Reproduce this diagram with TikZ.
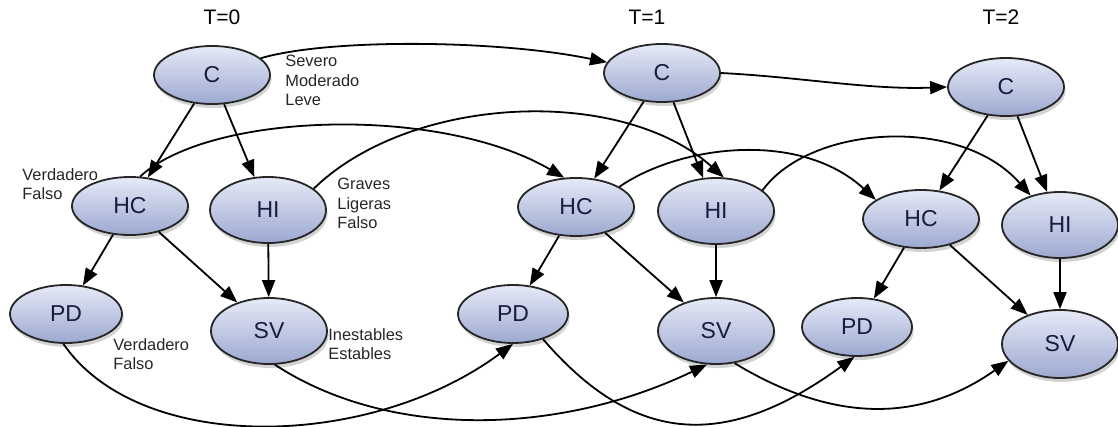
\documentclass[tikz,border=0pt]{standalone}
\usepackage{fontspec}
\setmainfont{Liberation Sans}
\usetikzlibrary{shapes.geometric}
\usetikzlibrary{shadows}
\usetikzlibrary{arrows.meta}

\definecolor{nodetop}{RGB}{230,234,247}
\definecolor{nodebot}{RGB}{156,168,208}
\definecolor{nodeink}{RGB}{24,28,62}

\begin{document}
\begin{tikzpicture}[x=0.5pt, y=-0.5pt,
  bnode/.style={ellipse, draw=black!85, line width=0.9pt,
                top color=nodetop, bottom color=nodebot,
                minimum width=58pt, minimum height=29pt, inner sep=0pt,
                font=\fontsize{11.5}{13}\selectfont, text=nodeink,
                drop shadow={shadow xshift=0.8pt, shadow yshift=-2pt,
                             opacity=0.35}},
  tall/.style={minimum height=33pt},
  states/.style={font=\fontsize{8.2}{9.6}\selectfont, text=black!85,
                 align=left, inner sep=0pt, anchor=north west},
  slice/.style={font=\fontsize{10.5}{12}\selectfont, anchor=base},
  dep/.style={-{Triangle[length=8.5pt, width=6.5pt]}, line width=0.9pt}]
  \useasboundingbox (0,0) rectangle (1118,427);
  % slice T=0
  \node[slice] (t0) at (222,25) {T=0};
  \node[bnode] (c0) at (212,75) {C};
  \node[bnode] (hc0) at (130,206) {HC};
  \node[bnode, tall] (hi0) at (268,210) {HI};
  \node[bnode, minimum width=56pt] (pd0) at (66,314) {PD};
  \node[bnode, tall] (sv0) at (269,331) {SV};
  % states of each variable
  \node[states] (s0c) at (285,55) {Severo\\Moderado\\Leve};
  \node[states] (s0hc) at (22,168) {Verdadero\\Falso};
  \node[states] (s0hi) at (337,178) {Graves\\Ligeras\\Falso};
  \node[states] (s0pd) at (113,338) {Verdadero\\Falso};
  \node[states] (s0sv) at (328,328) {Inestables\\Estables};
  % slice T=1
  \node[slice] (t1) at (647,25) {T=1};
  \node[bnode] (c1) at (662,73) {C};
  \node[bnode] (hc1) at (576,207) {HC};
  \node[bnode, tall] (hi1) at (716,211) {HI};
  \node[bnode, minimum width=55pt] (pd1) at (513,314) {PD};
  \node[bnode, tall] (sv1) at (716,331) {SV};
  % slice T=2
  \node[slice] (t2) at (1001,25) {T=2};
  \node[bnode] (c2) at (1006,87) {C};
  \node[bnode] (hc2) at (921,219) {HC};
  \node[bnode, tall] (hi2) at (1060,225) {HI};
  \node[bnode, minimum width=55pt] (pd2) at (857,327) {PD};
  \node[bnode, tall, minimum height=34pt] (sv2) at (1060,344) {SV};
  % arcs inside a slice
  \draw[dep] (c0) -- (hc0);
  \draw[dep] (c0) -- (hi0);
  \draw[dep] (hc0) -- (pd0);
  \draw[dep] (hc0) -- (sv0);
  \draw[dep] (hi0) -- (sv0);
  \draw[dep] (c1) -- (hc1);
  \draw[dep] (c1) -- (hi1);
  \draw[dep] (hc1) -- (pd1);
  \draw[dep] (hc1) -- (sv1);
  \draw[dep] (hi1) -- (sv1);
  \draw[dep] (c2) -- (hc2);
  \draw[dep] (c2) -- (hi2);
  \draw[dep] (hc2) -- (pd2);
  \draw[dep] (hc2) -- (sv2);
  \draw[dep] (hi2) -- (sv2);
  % arcs from one slice to the next
  \draw[dep] (c0.19) .. controls (330,38) and (500,40) .. (c1.169);
  \draw[dep] (c1.east) .. controls (800,77) and (870,90) .. (c2.west);
  \draw[dep] (hc0.71) .. controls (210,112) and (440,105) .. (hc1.112);
  \draw[dep] (hi0.25) .. controls (410,95) and (620,85) .. (hi1.77);
  \draw[dep] (hc1.25) .. controls (680,145) and (800,130) .. (hc2.157);
  \draw[dep] (hi1.24) .. controls (810,125) and (960,115) .. (hi2.135);
  \draw[dep] (pd0.-95) .. controls (140,455) and (370,450) .. (pd1.south);
  \draw[dep] (sv0.-80) .. controls (390,440) and (560,435) .. (sv1.-105);
  \draw[dep] (pd1.-40) .. controls (630,440) and (720,455) .. (pd2.-95);
  \draw[dep] (sv1.-60) .. controls (820,415) and (910,430) .. (sv2.198);
\end{tikzpicture}
\end{document}
